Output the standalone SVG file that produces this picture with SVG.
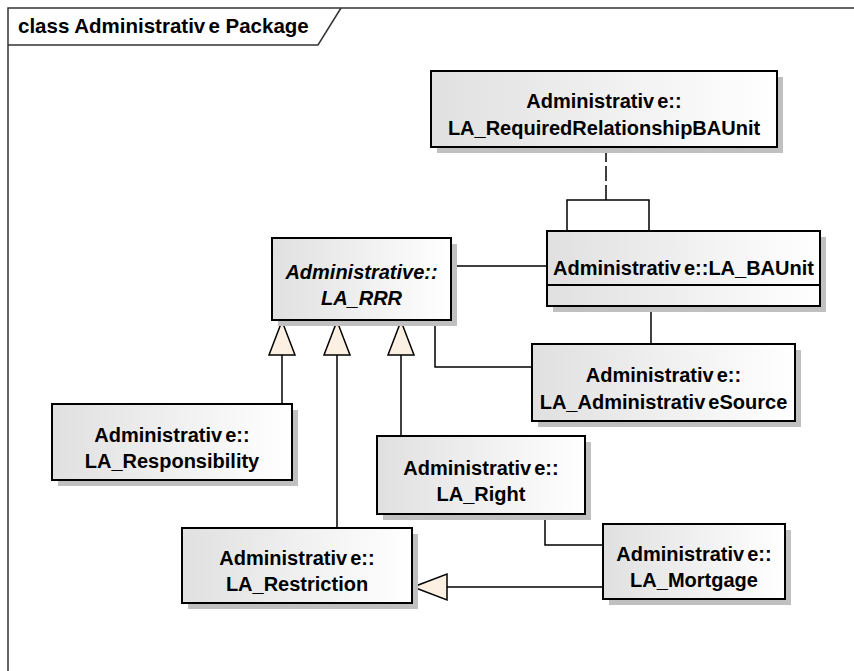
<svg xmlns="http://www.w3.org/2000/svg" width="854" height="671" viewBox="0 0 854 671">
<defs>
<linearGradient id="g" x1="0" y1="0" x2="1" y2="0">
<stop offset="0" stop-color="#E0E0E0"/>
<stop offset="1" stop-color="#FFFFFF"/>
</linearGradient>
<style>
.sh{fill:#C0C0C0;stroke:none}
.bx{fill:url(#g);stroke:#000;stroke-width:2}
.t{font-family:"Liberation Sans",Arial,sans-serif;font-weight:bold;font-size:20px;fill:#000;text-anchor:middle}
.i{font-style:italic}
.s{letter-spacing:-2.5px}
.c{fill:none;stroke:#000;stroke-width:1.5}
.tri{fill:#FBF0E1;stroke:#000;stroke-width:1.5}
.fr{fill:none;stroke:#333;stroke-width:1.5}
</style>
</defs>
<rect width="854" height="671" fill="#FFFFFF"/>
<g id="frame">
<path class="fr" d="M8,671 V8 H854"/>
<path class="fr" d="M8,45 H318 L341,8"/>
<text x="18" y="33" style="font-family:'Liberation Sans',Arial,sans-serif;font-weight:bold;font-size:20.5px">class Administrativ<tspan class="s"> </tspan>e Package</text>
</g>
<g id="connectors">
<path class="c" d="M606,147 V200" stroke-dasharray="15,4"/>
<path class="c" d="M567,231 V200 H649 V231"/>
<path class="c" d="M451,266 H547"/>
<path class="c" d="M651,306 V344"/>
<path class="c" d="M435,320 V367 H532"/>
<path class="c" d="M282,355 V404"/>
<path class="c" d="M337,355 V528"/>
<path class="c" d="M401,355 V436"/>
<path class="c" d="M545,514 V545 H603"/>
<path class="c" d="M447,587 H603"/>
<polygon class="tri" points="282,321 269,355 295,355"/>
<polygon class="tri" points="337,321 324,355 350,355"/>
<polygon class="tri" points="401,321 388,355 414,355"/>
<polygon class="tri" points="413,587 447,574 447,600"/>
</g>
<g id="LA_RequiredRelationshipBAUnit">
<rect class="sh" x="437" y="77" width="346" height="76"/>
<rect class="bx" x="431" y="71" width="346" height="76"/>
<text class="t" x="604" y="108">Administrativ<tspan class="s"> </tspan>e::</text>
<text class="t" x="604" y="135">LA_RequiredRelationshipBAUnit</text>
</g>
<g id="LA_BAUnit">
<rect class="sh" x="553" y="237" width="273" height="75"/>
<rect class="bx" x="547" y="231" width="273" height="75"/>
<line x1="547" y1="285" x2="820" y2="285" stroke="#000" stroke-width="2"/>
<text class="t" x="683.5" y="275">Administrativ<tspan class="s"> </tspan>e::LA_BAUnit</text>
</g>
<g id="LA_RRR">
<rect class="sh" x="278" y="244" width="179" height="82"/>
<rect class="bx" x="272" y="238" width="179" height="82"/>
<text class="t i" x="361.5" y="279">Administrative::</text>
<text class="t i" x="361.5" y="305">LA_RRR</text>
</g>
<g id="LA_AdministrativeSource">
<rect class="sh" x="538" y="350" width="263" height="77"/>
<rect class="bx" x="532" y="344" width="263" height="77"/>
<text class="t" x="663.5" y="382">Administrativ<tspan class="s"> </tspan>e::</text>
<text class="t" x="663.5" y="409">LA_Administrativ<tspan class="s"> </tspan>eSource</text>
</g>
<g id="LA_Responsibility">
<rect class="sh" x="58" y="410" width="240" height="76"/>
<rect class="bx" x="52" y="404" width="240" height="76"/>
<text class="t" x="172" y="442">Administrativ<tspan class="s"> </tspan>e::</text>
<text class="t" x="172" y="468">LA_Responsibility</text>
</g>
<g id="LA_Right">
<rect class="sh" x="383" y="442" width="208" height="78"/>
<rect class="bx" x="377" y="436" width="208" height="78"/>
<text class="t" x="481" y="475">Administrativ<tspan class="s"> </tspan>e::</text>
<text class="t" x="481" y="501">LA_Right</text>
</g>
<g id="LA_Restriction">
<rect class="sh" x="188" y="534" width="230" height="75"/>
<rect class="bx" x="182" y="528" width="230" height="75"/>
<text class="t" x="297" y="565">Administrativ<tspan class="s"> </tspan>e::</text>
<text class="t" x="297" y="591">LA_Restriction</text>
</g>
<g id="LA_Mortgage">
<rect class="sh" x="609" y="530" width="182" height="75"/>
<rect class="bx" x="603" y="524" width="182" height="75"/>
<text class="t" x="694" y="561">Administrativ<tspan class="s"> </tspan>e::</text>
<text class="t" x="694" y="587">LA_Mortgage</text>
</g>
</svg>
